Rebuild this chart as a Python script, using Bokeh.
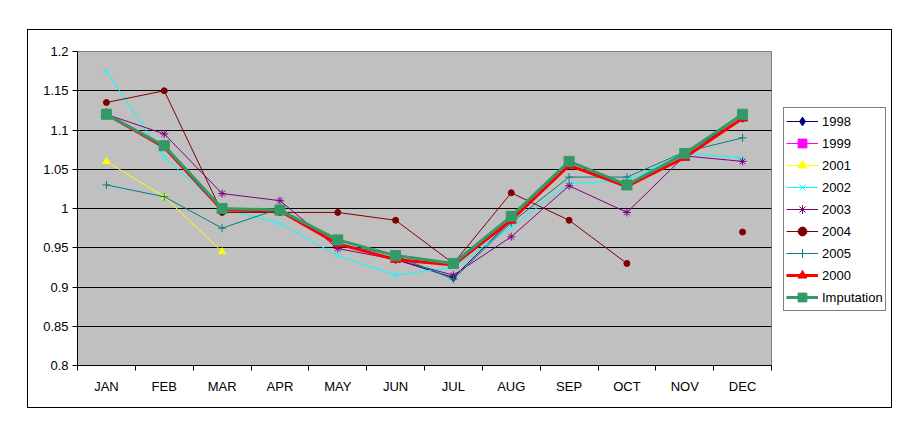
from bokeh.plotting import figure
from bokeh.models import Range1d, FixedTicker, Legend, LegendItem, ColumnDataSource, Spacer
from bokeh.layouts import column, row
from bokeh.embed import file_html
from bokeh.resources import INLINE

nan = float("nan")

months = ["JAN", "FEB", "MAR", "APR", "MAY", "JUN", "JUL", "AUG", "SEP", "OCT", "NOV", "DEC"]

s1998 = [1.12, 1.08, 1.0, 0.998, 0.955, 0.935, 0.912, 0.985, 1.055, 1.03, 1.07, 1.115]
s1999 = [1.12, 1.08, 1.0, 0.998, 0.96, 0.94, 0.93, 0.99, 1.06, 1.03, 1.07, 1.12]
s2001 = [1.06, 1.015, 0.945, nan, nan, nan, nan, nan, nan, nan, nan, nan]
s2002 = [1.175, 1.065, 1.0, 0.981, 0.94, 0.915, 0.925, 0.976, 1.032, 1.035, 1.07, 1.065]
s2003 = [1.12, 1.095, 1.019, 1.01, 0.949, 0.935, 0.915, 0.964, 1.029, 0.995, 1.067, 1.06]
s2004 = [1.135, 1.15, 0.995, 0.995, 0.995, 0.985, 0.93, 1.02, 0.985, 0.93, nan, 0.97]
s2005 = [1.03, 1.015, 0.975, 1.0, 0.955, 0.94, 0.91, 0.982, 1.04, 1.04, 1.072, 1.09]
s2000 = [1.12, 1.078, 0.998, 0.997, 0.955, 0.935, 0.928, 0.985, 1.055, 1.028, 1.065, 1.115]
imputation = [1.12, 1.08, 1.0, 0.998, 0.96, 0.94, 0.93, 0.99, 1.06, 1.03, 1.07, 1.12]

ytick_values = [0.8, 0.85, 0.9, 0.95, 1.0, 1.05, 1.1, 1.15, 1.2]
ytick_labels = ["0.8", "0.85", "0.9", "0.95", "1", "1.05", "1.1", "1.15", "1.2"]

FONT = "Liberation Sans"
FS = "13px"

xpos = [i + 0.5 for i in range(len(months))]

p = figure(width=748, height=377, output_backend="svg", toolbar_location=None,
           x_range=Range1d(0, len(months)), y_range=Range1d(ytick_values[0], ytick_values[-1]),
           min_border_left=49, min_border_right=5, min_border_top=21, min_border_bottom=42)
p.background_fill_color = "#C0C0C0"
p.border_fill_color = "white"
p.outline_line_color = "#808080"
p.outline_line_width = 1

# x axis: labels at category centres, ticks between categories
xa = p.xaxis[0]
xa.ticker = FixedTicker(ticks=xpos, minor_ticks=list(range(len(months) + 1)))
xa.major_label_overrides = {x: m for x, m in zip(xpos, months)}
xa.major_tick_line_color = None
xa.minor_tick_line_color = "black"
xa.minor_tick_out = 5
xa.minor_tick_in = 0
xa.axis_line_color = "black"
xa.major_label_standoff = 7
xa.major_label_text_font = FONT
xa.major_label_text_font_size = FS
xa.major_label_text_color = "black"

ya = p.yaxis[0]
ya.ticker = FixedTicker(ticks=ytick_values)
ya.major_label_overrides = {v: l for v, l in zip(ytick_values, ytick_labels)}
ya.major_tick_out = 5
ya.major_tick_in = 0
ya.major_tick_line_color = "black"
ya.minor_tick_line_color = None
ya.axis_line_color = "black"
ya.major_label_standoff = 4
ya.major_label_text_font = FONT
ya.major_label_text_font_size = FS
ya.major_label_text_color = "black"

p.xgrid.visible = False
p.ygrid.ticker = FixedTicker(ticks=ytick_values[1:-1])
p.ygrid.grid_line_color = "black"
p.ygrid.grid_line_width = 1

series = [
    ("1998", s1998, "#000080", "diamond", 8, 1),
    ("1999", s1999, "#FF00FF", "square", 6, 1),
    ("2001", s2001, "#FFFF00", "triangle", 7, 1),
    ("2002", s2002, "#00FFFF", "x", 7, 1),
    ("2003", s2003, "#800080", "asterisk", 8, 1),
    ("2004", s2004, "#800000", "circle", 6, 1),
    ("2005", s2005, "#008080", "cross", 8, 1),
    ("2000", s2000, "#FF0000", "triangle", 10, 3),
    ("Imputation", imputation, "#339966", "square", 10, 3),
]

# legend panel: a small companion figure holding only the legend
pl = figure(width=115, height=377, output_backend="svg", toolbar_location=None,
            x_axis_type=None, y_axis_type=None, min_border=0,
            x_range=Range1d(0, 1), y_range=Range1d(0, 1))
pl.outline_line_color = None
pl.background_fill_color = "white"
pl.border_fill_color = "white"
pl.xgrid.visible = False
pl.ygrid.visible = False

items = []
for name, vals, color, marker, size, lw in series:
    src = ColumnDataSource(dict(x=xpos, y=vals))
    p.line("x", "y", source=src, line_color=color, line_width=lw)
    p.scatter("x", "y", source=src, marker=marker, size=size,
              fill_color=color, line_color=color, line_width=1)
    # hidden key renderers sharing the series data; only their style shows in the key
    k1 = pl.line("x", "y", source=src, line_color=color, line_width=lw, visible=False)
    k2 = pl.scatter("x", "y", source=src, marker=marker, size=size,
                    fill_color=color, line_color=color, line_width=1, visible=False)
    items.append(LegendItem(label=name, renderers=[k1, k2]))

legend = Legend(items=items, location=(7, 54))
legend.border_line_color = "black"
legend.border_line_width = 1
legend.background_fill_color = "white"
legend.background_fill_alpha = 1
legend.inactive_fill_alpha = 0
legend.label_text_font = FONT
legend.label_text_font_size = FS
legend.label_text_color = "black"
legend.glyph_height = 22
legend.label_height = 22
legend.glyph_width = 32
legend.label_standoff = 4
legend.spacing = 0
legend.padding = 2
legend.margin = 0
pl.add_layout(legend)

box = row(p, pl, styles={"border": "1px solid black"})
page = column(Spacer(height=29), row(Spacer(width=27), box))

open("out.html", "w").write(file_html(page, INLINE))
